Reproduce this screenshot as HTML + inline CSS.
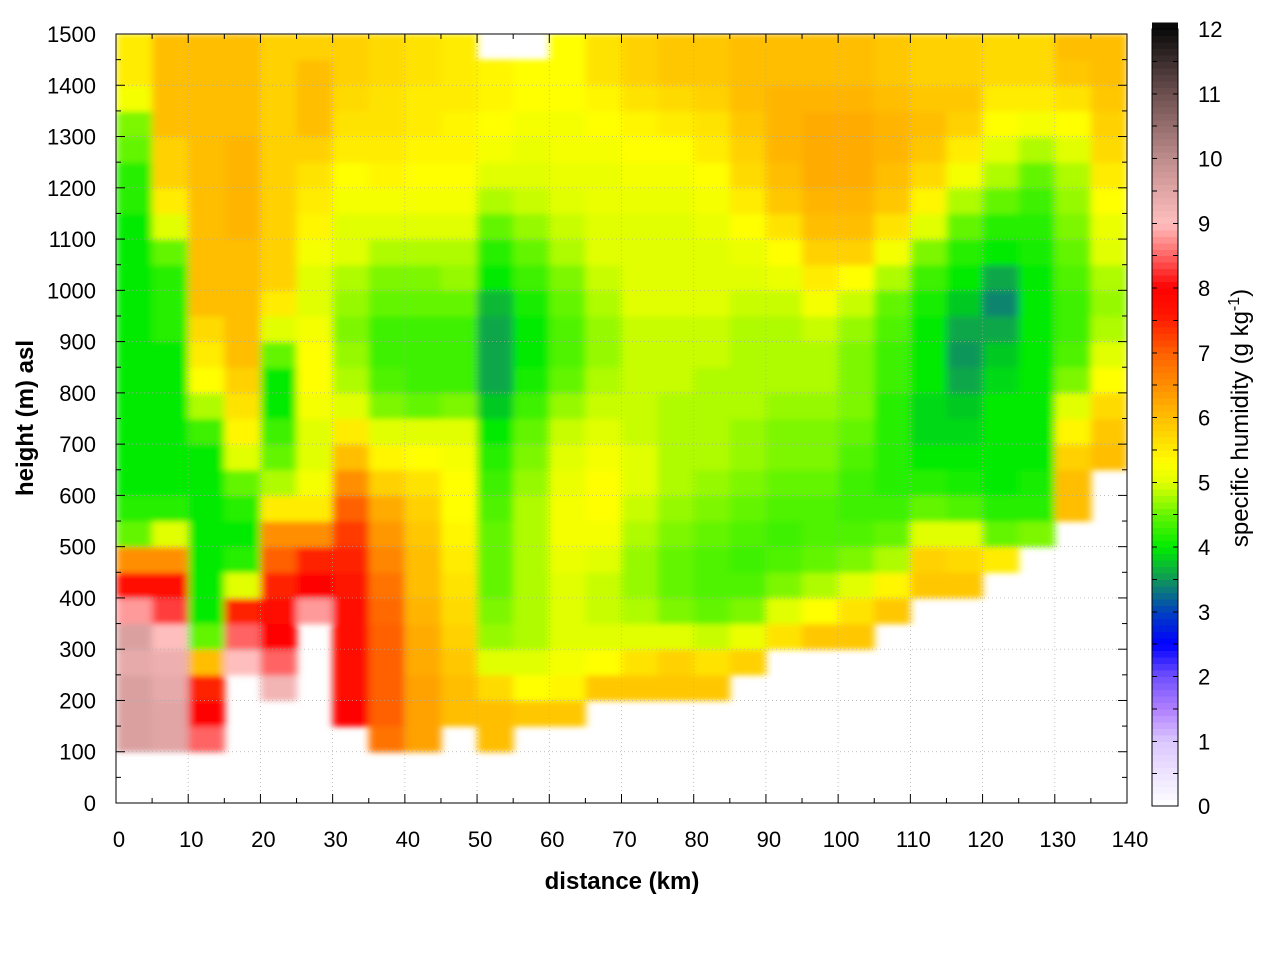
<!DOCTYPE html>
<html><head><meta charset="utf-8"><style>
html,body{margin:0;padding:0;background:#fff;}
svg text{font-family:"Liberation Sans",sans-serif;fill:#000;}
</style></head><body>
<svg id="chart" width="1280" height="960" xmlns="http://www.w3.org/2000/svg">
<defs>
<filter id="soft" x="-2%" y="-2%" width="104%" height="104%"><feGaussianBlur stdDeviation="4 3"/></filter>
<clipPath id="plotclip"><rect x="116" y="34" width="1011" height="769"/></clipPath>
</defs>
<g clip-path="url(#plotclip)"><g id="cells" filter="url(#soft)"></g></g>
<g id="grid"></g>
<g id="axes"></g>
<g id="cbar" shape-rendering="crispEdges"></g>
</svg>
<script>
// distance bin starts (km), bin width 5 km; height bins of 50 m from 0 to 1500
const distStart = [0,5,10,15,20,25,30,35,40,45,50,55,60,65,70,75,80,85,90,95,100,105,110,115,120,125,130,135];
const heightStart = [0,50,100,150,200,250,300,350,400,450,500,550,600,650,700,750,800,850,900,950,1000,1050,1100,1150,1200,1250,1300,1350,1400,1450];
const xTicks = [0,10,20,30,40,50,60,70,80,90,100,110,120,130,140];
const yTicks = [0,100,200,300,400,500,600,700,800,900,1000,1100,1200,1300,1400,1500];
const cTicks = [0,1,2,3,4,5,6,7,8,9,10,11,12];
// specific humidity (g/kg), one profile per distance bin, bottom to top; 0 = no data
const q = [
[0,0,9.6,9.6,9.6,9.4,9.6,8.8,7.8,6.5,4.5,4.2,4.0,4.0,4.0,4.0,4.0,4.0,4.0,4.0,4.0,4.0,4.0,4.2,4.2,4.5,4.6,5.2,5.5,5.5],
[0,0,9.5,9.5,9.4,9.3,9.0,8.3,7.8,6.5,5.0,4.2,4.0,4.0,4.0,4.0,4.0,4.0,4.2,4.2,4.2,4.5,5.0,5.5,5.8,5.8,6,6,6,6],
[0,0,8.5,8.0,7.5,6.0,4.5,4.0,4.0,4.0,4.0,4.0,4.0,4.0,4.3,4.8,5.3,5.5,5.7,6,6,6,6,6,6,6,6,6,6,6],
[0,0,0,0,0,9.0,8.5,7.5,5.0,4.2,4.0,4.2,4.5,5.0,5.4,5.6,5.8,6.0,6.0,6.0,6.0,6.0,6.1,6.1,6.1,6.1,6.0,6.0,6.0,6.0],
[0,0,0,0,9.2,8.5,8.0,7.8,7.5,7.0,6.5,5.5,4.8,4.5,4.3,4.0,4.0,4.5,5.0,5.5,5.8,5.8,5.8,5.8,5.8,5.8,5.8,5.8,5.8,5.8],
[0,0,0,0,0,0,0,8.8,8.0,7.5,6.5,5.5,5.2,5.0,5.0,5.2,5.3,5.3,5.2,5.0,5.0,5.2,5.4,5.5,5.6,5.8,6.0,6.0,6.0,5.8],
[0,0,0,8.0,7.8,7.8,7.8,7.7,7.6,7.5,7.3,7.0,6.5,6.0,5.5,5.0,4.8,4.7,4.6,4.7,4.8,5.0,5.0,5.2,5.3,5.5,5.6,5.7,5.8,5.8],
[0,0,6.8,7.0,7.0,7.0,7.0,6.9,6.8,6.6,6.4,6.2,5.8,5.4,5.0,4.6,4.4,4.3,4.3,4.5,4.6,4.8,5.0,5.2,5.4,5.5,5.6,5.6,5.7,5.7],
[0,0,6.3,6.3,6.3,6.2,6.2,6.1,6.0,6.0,5.9,5.8,5.6,5.3,5.0,4.5,4.3,4.3,4.3,4.5,4.6,4.8,5.0,5.2,5.3,5.4,5.5,5.5,5.6,5.6],
[0,0,0,6.0,6.0,5.9,5.8,5.7,5.6,5.5,5.4,5.3,5.3,5.2,5.0,4.6,4.3,4.3,4.3,4.5,4.7,4.8,5.0,5.2,5.3,5.4,5.4,5.5,5.5,5.5],
[0,0,6.0,6.0,5.7,5.0,4.7,4.6,4.5,4.5,4.5,4.4,4.3,4.2,4.0,3.8,3.6,3.6,3.6,3.7,4.0,4.2,4.5,4.8,5.0,5.2,5.3,5.4,5.4,0],
[0,0,0,5.9,5.3,5.0,4.8,4.8,4.8,4.8,4.8,4.8,4.7,4.6,4.5,4.3,4.1,4.0,4.0,4.1,4.3,4.5,4.7,4.9,5.0,5.1,5.2,5.3,5.3,0],
[0,0,0,5.9,5.4,5.2,5.0,5.0,5.0,5.1,5.2,5.2,5.1,5.0,4.9,4.7,4.5,4.4,4.4,4.5,4.6,4.8,4.9,5.0,5.1,5.2,5.2,5.3,5.3,5.3],
[0,0,0,0,5.9,5.3,5.0,4.9,4.9,5.0,5.2,5.3,5.3,5.2,5.0,4.9,4.8,4.7,4.7,4.8,4.9,5.0,5.0,5.1,5.1,5.2,5.3,5.4,5.6,5.6],
[0,0,0,0,5.9,5.6,5.0,4.8,4.7,4.7,4.8,4.9,5.0,5.0,4.9,4.9,4.9,4.9,4.9,5.0,5.0,5.0,5.0,5.1,5.2,5.3,5.4,5.6,5.8,5.8],
[0,0,0,0,5.9,5.8,5.0,4.6,4.5,4.5,4.6,4.7,4.8,4.8,4.8,4.8,4.9,4.9,4.9,5.0,5.0,5.0,5.0,5.1,5.2,5.3,5.5,5.7,5.9,5.9],
[0,0,0,0,5.9,5.6,4.9,4.5,4.4,4.4,4.5,4.6,4.7,4.8,4.8,4.8,4.8,4.9,4.9,5.0,5.0,5.0,5.1,5.2,5.3,5.5,5.6,5.8,5.9,5.9],
[0,0,0,0,0,5.8,5.1,4.6,4.4,4.3,4.4,4.5,4.6,4.7,4.7,4.8,4.8,4.8,4.8,4.9,5.0,5.1,5.3,5.5,5.7,5.8,5.9,6.0,6.0,6.0],
[0,0,0,0,0,0,5.6,5.0,4.6,4.4,4.3,4.4,4.5,4.6,4.6,4.7,4.8,4.8,4.8,4.9,5.1,5.3,5.6,5.9,6.0,6.1,6.1,6.1,6.0,6.0],
[0,0,0,0,0,0,5.9,5.3,4.8,4.5,4.4,4.4,4.5,4.6,4.6,4.7,4.8,4.8,4.9,5.2,5.5,5.8,6.0,6.1,6.2,6.2,6.2,6.1,6.0,6.0],
[0,0,0,0,0,0,5.9,5.6,5.0,4.6,4.4,4.3,4.3,4.4,4.5,4.6,4.6,4.6,4.7,4.9,5.3,5.8,6.0,6.1,6.2,6.2,6.2,6.1,6.0,6.0],
[0,0,0,0,0,0,0,5.9,5.4,4.8,4.5,4.3,4.2,4.2,4.2,4.2,4.3,4.3,4.4,4.5,4.8,5.2,5.6,5.9,6.0,6.1,6.1,6.0,5.9,5.9],
[0,0,0,0,0,0,0,0,5.9,5.8,5.0,4.5,4.2,4.0,3.9,3.9,4.0,4.0,4.0,4.1,4.3,4.6,5.0,5.4,5.7,5.9,6.0,5.9,5.8,5.8],
[0,0,0,0,0,0,0,0,5.9,5.7,5.0,4.4,4.1,4.0,3.9,3.8,3.6,3.5,3.6,3.8,4.0,4.2,4.5,4.8,5.2,5.5,5.8,5.9,5.8,5.8],
[0,0,0,0,0,0,0,0,0,5.5,4.5,4.2,4.0,4.0,4.0,4.0,3.9,3.8,3.6,3.4,3.6,4.0,4.2,4.5,4.8,5.0,5.3,5.5,5.7,5.7],
[0,0,0,0,0,0,0,0,0,0,4.6,4.2,4.1,4.0,4.0,4.0,4.0,4.0,4.0,4.0,4.0,4.1,4.2,4.3,4.5,4.8,5.2,5.5,5.7,5.7],
[0,0,0,0,0,0,0,0,0,0,0,6.0,6.0,5.8,5.4,5.0,4.6,4.4,4.3,4.3,4.4,4.5,4.6,4.7,4.8,5.0,5.3,5.6,5.9,6.0],
[0,0,0,0,0,0,0,0,0,0,0,0,0,6.0,5.9,5.7,5.3,5.0,4.8,4.7,4.8,5.0,5.1,5.3,5.5,5.7,5.8,5.9,6.0,6.0]
];

const NS='http://www.w3.org/2000/svg';
const X0=116,X1=1127,Y0=803,Y1=34;
function sx(d){return X0+(d/140)*(X1-X0);}
function sy(h){return Y0-(h/1500)*(Y0-Y1);}
const CB_X=1152,CB_W=26,CB_Y0=806,CB_Y1=29;
function cy(v){return CB_Y0-(v/12)*(CB_Y0-CB_Y1);}
const stops=[[0,[255,255,255]],[1,[220,200,255]],[1.5,[176,128,255]],[2,[112,80,255]],[2.5,[0,0,255]],[3,[0,64,192]],[3.5,[16,150,90]],[4,[0,235,0]],[4.5,[100,245,0]],[5,[225,255,0]],[5.3,[255,255,0]],[6,[255,190,0]],[7,[255,96,0]],[7.6,[255,20,0]],[8,[255,0,0]],[8.5,[255,100,100]],[9,[255,190,190]],[9.5,[225,165,165]],[10,[190,140,140]],[11,[110,80,80]],[12,[10,10,10]]];
function color(v){
  if(v<=stops[0][0])return 'rgb(255,255,255)';
  for(let i=1;i<stops.length;i++){
    if(v<=stops[i][0]){const a=stops[i-1],b=stops[i];const t=(v-a[0])/(b[0]-a[0]);
      const c=a[1].map((x,k)=>Math.round(x+(b[1][k]-x)*t));return 'rgb('+c.join(',')+')';}
  }
  return 'rgb(10,10,10)';
}
function mk(tag,attrs,parent){const e=document.createElementNS(NS,tag);for(const k in attrs)e.setAttribute(k,attrs[k]);parent.appendChild(e);return e;}

const cells=document.getElementById('cells');
q.forEach((col,i)=>{col.forEach((v,j)=>{
  if(!v)return;
  const x=sx(distStart[i]),x2=sx(distStart[i]+5),y=sy(heightStart[j]+50),y2=sy(heightStart[j]);
  const r=mk('rect',{x:x,y:y,width:x2-x+0.6,height:y2-y+0.6,fill:color(v)},cells);
  
  
});});

const grid=document.getElementById('grid');
xTicks.slice(1,-1).forEach(t=>{const l=mk('line',{x1:sx(t),x2:sx(t),y1:Y1,y2:Y0,stroke:'#aaa','stroke-width':0.7,'stroke-dasharray':'1,3'},grid);
  
  });
yTicks.slice(1,-1).forEach(t=>{const l=mk('line',{x1:X0,x2:X1,y1:sy(t),y2:sy(t),stroke:'#aaa','stroke-width':0.7,'stroke-dasharray':'1,3'},grid);
  
  });

const axes=document.getElementById('axes');
const frame=mk('rect',{x:X0,y:Y1,width:X1-X0,height:Y0-Y1,fill:'none',stroke:'#000','stroke-width':1},axes);


for(let d=0;d<=140;d+=5){const L=d%10===0?9:5;
  mk('line',{x1:sx(d),x2:sx(d),y1:Y0,y2:Y0-L,stroke:'#000'},axes);
  mk('line',{x1:sx(d),x2:sx(d),y1:Y1,y2:Y1+L,stroke:'#000'},axes);}
for(let h=0;h<=1500;h+=50){const L=h%100===0?9:5;
  mk('line',{x1:X0,x2:X0+L,y1:sy(h),y2:sy(h),stroke:'#000'},axes);
  mk('line',{x1:X1,x2:X1-L,y1:sy(h),y2:sy(h),stroke:'#000'},axes);}
xTicks.forEach(t=>{const e=mk('text',{x:sx(t)+3,y:847,'font-size':22,'text-anchor':'middle'},axes);e.textContent=t;
  
  });
yTicks.forEach(t=>{const e=mk('text',{x:96,y:sy(t)+8,'font-size':22,'text-anchor':'end'},axes);e.textContent=t;
  
  });
const xt=mk('text',{x:622,y:889,'font-size':24,'font-weight':'bold','text-anchor':'middle'},axes);xt.textContent='distance (km)';


const yt=mk('text',{x:0,y:0,'font-size':24,'font-weight':'bold','text-anchor':'middle',transform:'translate(33,418) rotate(-90)'},axes);yt.textContent='height (m) asl';



const cb=document.getElementById('cbar');
for(let v=0;v<12;v+=0.1){
  mk('rect',{x:CB_X,y:cy(v+0.1),width:CB_W,height:cy(v)-cy(v+0.1)+0.6,fill:color(v+0.05)},cb);
}
const cbf=mk('rect',{x:CB_X,y:CB_Y1,width:CB_W,height:CB_Y0-CB_Y1,fill:'none',stroke:'#000'},cb);


for(let v=0.5;v<12;v+=0.5){
  mk('line',{x1:CB_X,x2:CB_X+5,y1:cy(v),y2:cy(v),stroke:'#000'},cb);
  mk('line',{x1:CB_X+CB_W,x2:CB_X+CB_W-5,y1:cy(v),y2:cy(v),stroke:'#000'},cb);
}
cTicks.forEach(t=>{const e=mk('text',{x:1198,y:cy(t)+8,'font-size':22},cb);e.textContent=t;
  
  });
const ct=mk('text',{x:0,y:0,'font-size':24,'text-anchor':'middle',transform:'translate(1248,418) rotate(-90)'},cb);
ct.innerHTML='specific humidity (g kg<tspan dy="-9" font-size="16">-1</tspan><tspan dy="9">)</tspan>';


</script>
</body></html>
